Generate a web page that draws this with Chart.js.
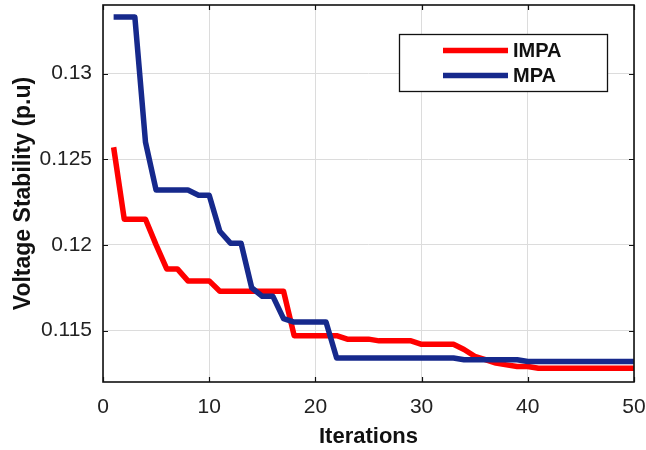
<!DOCTYPE html>
<html>
<head>
<meta charset="utf-8">
<script src="https://cdn.jsdelivr.net/npm/chart.js@4"></script>
<style>
html,body{margin:0;padding:0;background:#fff;}
#wrap{width:646px;height:450px;position:relative;}
</style>
</head>
<body>
<div id="wrap"><canvas id="c" width="646" height="450"></canvas></div>
<script>
const iterations = [1,2,3,4,5,6,7,8,9,10,11,12,13,14,15,16,17,18,19,20,21,22,23,24,25,26,27,28,29,30,31,32,33,34,35,36,37,38,39,40,41,42,43,44,45,46,47,48,49,50];
const impa = [0.1257,0.1215,0.1215,0.1215,0.1200,0.1186,0.1186,0.1179,0.1179,0.1179,
              0.1173,0.1173,0.1173,0.1173,0.1173,0.1173,0.1173,0.1147,0.1147,0.1147,
              0.1147,0.1147,0.1145,0.1145,0.1145,0.1144,0.1144,0.1144,0.1144,0.1142,
              0.1142,0.1142,0.1142,0.1139,0.1135,0.1133,0.1131,0.1130,0.1129,0.1129,
              0.1128,0.1128,0.1128,0.1128,0.1128,0.1128,0.1128,0.1128,0.1128,0.1128];
const mpa = [0.1333,0.1333,0.1333,0.1260,0.1232,0.1232,0.1232,0.1232,0.1229,0.1229,
             0.1208,0.1201,0.1201,0.1175,0.1170,0.1170,0.1157,0.1155,0.1155,0.1155,
             0.1155,0.1134,0.1134,0.1134,0.1134,0.1134,0.1134,0.1134,0.1134,0.1134,
             0.1134,0.1134,0.1134,0.1133,0.1133,0.1133,0.1133,0.1133,0.1133,0.1132,
             0.1132,0.1132,0.1132,0.1132,0.1132,0.1132,0.1132,0.1132,0.1132,0.1132];
const seriesNames = ['IMPA','MPA'];
const seriesColors = ['#ff0000','#16298c'];
const yTicks = [0.115,0.12,0.125,0.13];
const xTicks = [0,10,20,30,40,50];
const xTitle = 'Iterations';
const yTitle = 'Voltage Stability (p.u)';

Chart.defaults.font.family = "'Liberation Sans', Arial, sans-serif";
Chart.defaults.color = '#222';

const toPts = arr => arr.map((v,i)=>({x:iterations[i], y:v}));

const boxPlugin = {
  id:'boxPlugin',
  afterDatasetsDraw(chart){
    const {ctx, chartArea:a, scales} = chart;
    ctx.save();
    ctx.strokeStyle = '#111';
    ctx.lineWidth = 1.2;
    const tl = 5;
    xTicks.forEach(v=>{
      const px = Math.round(scales.x.getPixelForValue(v))+0.5;
      ctx.beginPath();
      ctx.moveTo(px,a.bottom); ctx.lineTo(px,a.bottom-tl);
      ctx.moveTo(px,a.top); ctx.lineTo(px,a.top+tl);
      ctx.stroke();
    });
    yTicks.forEach(v=>{
      const py = Math.round(scales.y.getPixelForValue(v))+0.5;
      ctx.beginPath();
      ctx.moveTo(a.left,py); ctx.lineTo(a.left+tl,py);
      ctx.moveTo(a.right,py); ctx.lineTo(a.right-tl,py);
      ctx.stroke();
    });
    ctx.lineWidth = 1.6;
    ctx.strokeStyle = '#111';
    ctx.strokeRect(a.left, a.top, a.right-a.left, a.bottom-a.top);
    const lx = 399, ly = 34, lw = 208, lh = 57;
    ctx.fillStyle = '#fff';
    ctx.fillRect(lx, ly, lw, lh);
    ctx.lineWidth = 1.3;
    ctx.strokeRect(lx+0.5, ly+0.5, lw, lh);
    const rows = [50.5, 75.5];
    seriesNames.forEach((name,i)=>{
      ctx.strokeStyle = seriesColors[i];
      ctx.lineWidth = 5.5;
      ctx.beginPath();
      ctx.moveTo(443, rows[i]); ctx.lineTo(508, rows[i]);
      ctx.stroke();
      ctx.fillStyle = '#111';
      ctx.font = "bold 20px 'Liberation Sans', Arial, sans-serif";
      ctx.textBaseline = 'middle';
      ctx.textAlign = 'left';
      ctx.fillText(name, 513, rows[i]+1);
    });
    ctx.restore();
  }
};

new Chart(document.getElementById('c'), {
  type:'line',
  data:{
    datasets:[
      {label:seriesNames[0], data:toPts(impa), borderColor:seriesColors[0], borderWidth:5.5, pointRadius:0, tension:0, fill:false, order:1, borderJoinStyle:'round'},
      {label:seriesNames[1], data:toPts(mpa), borderColor:seriesColors[1], borderWidth:5.5, pointRadius:0, tension:0, fill:false, order:0, borderJoinStyle:'round'}
    ]
  },
  options:{
    responsive:false,
    animation:false,
    devicePixelRatio:1,
    layout:{padding:{left:0, top:5, right:12, bottom:0}},
    plugins:{legend:{display:false}, tooltip:{enabled:false}},
    scales:{
      x:{
        type:'linear', min:0, max:50,
        afterBuildTicks(s){ s.ticks = xTicks.map(v=>({value:v})); },
        afterFit(s){ s.height = 68; s.paddingLeft = 0; s.paddingRight = 0; },
        grid:{color:'#dcdcdc', lineWidth:1, drawTicks:false},
        border:{display:false},
        ticks:{padding:13, font:{size:21}, color:'#222', maxRotation:0},
        title:{display:true, text:xTitle, font:{size:22, weight:'bold'}, color:'#111', padding:{top:0,bottom:0}}
      },
      y:{
        type:'linear', min:0.112, max:0.134,
        afterBuildTicks(s){ s.ticks = yTicks.map(v=>({value:v})); },
        afterFit(s){ s.width = 103; s.paddingTop = 0; s.paddingBottom = 0; },
        grid:{color:'#dcdcdc', lineWidth:1, drawTicks:false},
        border:{display:false},
        ticks:{padding:11, font:{size:21}, color:'#222', callback:v=>String(+v.toFixed(3))},
        title:{display:true, text:yTitle, font:{size:23, weight:'bold'}, color:'#111', padding:{top:10,bottom:0}}
      }
    }
  },
  plugins:[boxPlugin]
});
</script>
</body>
</html>
